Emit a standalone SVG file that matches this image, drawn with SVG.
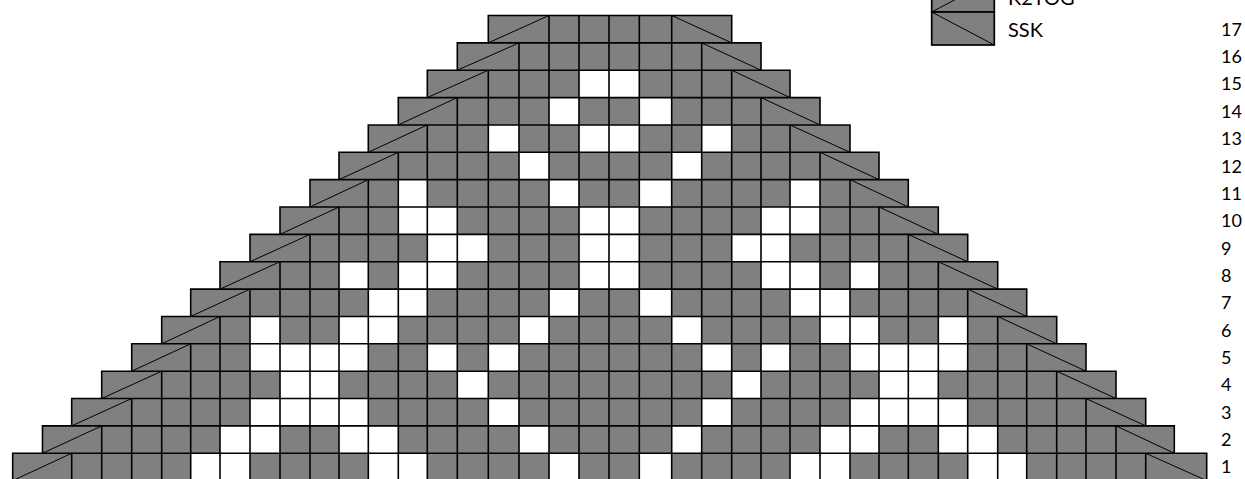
<svg xmlns="http://www.w3.org/2000/svg" width="1245" height="479" viewBox="0 0 1245 479">
<style>
.bg{fill:#808080;stroke:none}
.w{fill:#ffffff;stroke:none}
.grid{fill:none;stroke:#000;stroke-width:1.6;stroke-linecap:square}
.diag{fill:none;stroke:#000;stroke-width:1}
.lbox{fill:#808080;stroke:#000;stroke-width:1.7}
.t{font-family:Lato,"Liberation Sans",sans-serif;font-size:18px;fill:#000}
.lt{font-family:Lato,"Liberation Sans",sans-serif;font-size:20px;fill:#000}
</style>
<rect width="1245" height="479" fill="#fff"/>
<g id="chart">
<path id="shape" class="bg" d="M12.7 480.62V453.26H42.5V425.9H71.7V398.54H101.7V371.18H131.7V343.82H161.7V316.46H190.7V289.1H220V261.74H250V234.38H280V207.02H310V179.66H339V152.3H368.3V124.94H398.3V97.58H427.3V70.22H457.3V42.86H488.3V15.5H731.7V42.86H761V70.22H790V97.58H820V124.94H850V152.3H879V179.66H908.3V207.02H938.3V234.38H967.7V261.74H997.7V289.1H1026.7V316.46H1056.7V343.82H1086V371.18H1116V398.54H1145.7V425.9H1174.3V453.26H1206.7V480.62Z"/>
<g id="row-1" class="w">
<rect x="190.7" y="453.26" width="59.3" height="27.36"/><rect x="368.3" y="453.26" width="59" height="27.36"/><rect x="549" y="453.26" width="30" height="27.36"/><rect x="639.3" y="453.26" width="32.4" height="27.36"/><rect x="790" y="453.26" width="60" height="27.36"/><rect x="967.7" y="453.26" width="59" height="27.36"/>
</g>
<g id="row-2" class="w">
<rect x="220" y="425.9" width="60" height="27.36"/><rect x="339" y="425.9" width="59.3" height="27.36"/><rect x="519" y="425.9" width="30" height="27.36"/><rect x="671.7" y="425.9" width="30" height="27.36"/><rect x="820" y="425.9" width="59" height="27.36"/><rect x="938.3" y="425.9" width="59.4" height="27.36"/>
</g>
<g id="row-3" class="w">
<rect x="250" y="398.54" width="118.3" height="27.36"/><rect x="488.3" y="398.54" width="30.7" height="27.36"/><rect x="701.7" y="398.54" width="30" height="27.36"/><rect x="850" y="398.54" width="117.7" height="27.36"/>
</g>
<g id="row-4" class="w">
<rect x="280" y="371.18" width="59" height="27.36"/><rect x="457.3" y="371.18" width="31" height="27.36"/><rect x="731.7" y="371.18" width="29.3" height="27.36"/><rect x="879" y="371.18" width="59.3" height="27.36"/>
</g>
<g id="row-5" class="w">
<rect x="250" y="343.82" width="118.3" height="27.36"/><rect x="427.3" y="343.82" width="30" height="27.36"/><rect x="488.3" y="343.82" width="30.7" height="27.36"/><rect x="701.7" y="343.82" width="30" height="27.36"/><rect x="761" y="343.82" width="29" height="27.36"/><rect x="850" y="343.82" width="117.7" height="27.36"/>
</g>
<g id="row-6" class="w">
<rect x="250" y="316.46" width="30" height="27.36"/><rect x="339" y="316.46" width="59.3" height="27.36"/><rect x="519" y="316.46" width="30" height="27.36"/><rect x="671.7" y="316.46" width="30" height="27.36"/><rect x="820" y="316.46" width="59" height="27.36"/><rect x="938.3" y="316.46" width="29.4" height="27.36"/>
</g>
<g id="row-7" class="w">
<rect x="368.3" y="289.1" width="59" height="27.36"/><rect x="549" y="289.1" width="30" height="27.36"/><rect x="639.3" y="289.1" width="32.4" height="27.36"/><rect x="790" y="289.1" width="60" height="27.36"/>
</g>
<g id="row-8" class="w">
<rect x="339" y="261.74" width="29.3" height="27.36"/><rect x="398.3" y="261.74" width="59" height="27.36"/><rect x="579" y="261.74" width="60.3" height="27.36"/><rect x="761" y="261.74" width="59" height="27.36"/><rect x="850" y="261.74" width="29" height="27.36"/>
</g>
<g id="row-9" class="w">
<rect x="427.3" y="234.38" width="61" height="27.36"/><rect x="579" y="234.38" width="60.3" height="27.36"/><rect x="731.7" y="234.38" width="58.3" height="27.36"/>
</g>
<g id="row-10" class="w">
<rect x="398.3" y="207.02" width="59" height="27.36"/><rect x="579" y="207.02" width="60.3" height="27.36"/><rect x="761" y="207.02" width="59" height="27.36"/>
</g>
<g id="row-11" class="w">
<rect x="398.3" y="179.66" width="29" height="27.36"/><rect x="549" y="179.66" width="30" height="27.36"/><rect x="639.3" y="179.66" width="32.4" height="27.36"/><rect x="790" y="179.66" width="30" height="27.36"/>
</g>
<g id="row-12" class="w">
<rect x="519" y="152.3" width="30" height="27.36"/><rect x="671.7" y="152.3" width="30" height="27.36"/>
</g>
<g id="row-13" class="w">
<rect x="488.3" y="124.94" width="30.7" height="27.36"/><rect x="579" y="124.94" width="60.3" height="27.36"/><rect x="701.7" y="124.94" width="30" height="27.36"/>
</g>
<g id="row-14" class="w">
<rect x="549" y="97.58" width="30" height="27.36"/><rect x="639.3" y="97.58" width="32.4" height="27.36"/>
</g>
<g id="row-15" class="w">
<rect x="579" y="70.22" width="60.3" height="27.36"/>
</g>
<g id="row-16"/>
<g id="row-17"/>
<path id="grid" class="grid" d="M12.7 480.62V453.26H42.5V425.9H71.7V398.54H101.7V371.18H131.7V343.82H161.7V316.46H190.7V289.1H220V261.74H250V234.38H280V207.02H310V179.66H339V152.3H368.3V124.94H398.3V97.58H427.3V70.22H457.3V42.86H488.3V15.5H731.7V42.86H761V70.22H790V97.58H820V124.94H850V152.3H879V179.66H908.3V207.02H938.3V234.38H967.7V261.74H997.7V289.1H1026.7V316.46H1056.7V343.82H1086V371.18H1116V398.54H1145.7V425.9H1174.3V453.26H1206.7V480.62Z
M42.5 453.26H1174.3M71.7 425.9H1145.7M101.7 398.54H1116M131.7 371.18H1086M161.7 343.82H1056.7M190.7 316.46H1026.7M220 289.1H997.7M250 261.74H967.7M280 234.38H938.3M310 207.02H908.3M339 179.66H879M368.3 152.3H850M398.3 124.94H820M427.3 97.58H790M457.3 70.22H761M488.3 42.86H731.7
M71.7 453.26V480.62M101.7 425.9V480.62M131.7 398.54V480.62M161.7 371.18V480.62M190.7 343.82V480.62M220 316.46V480.62M250 289.1V480.62M280 261.74V480.62M310 234.38V480.62M339 207.02V480.62M368.3 179.66V480.62M398.3 152.3V480.62M427.3 124.94V480.62M457.3 97.58V480.62M488.3 70.22V480.62M519 42.86V480.62M549 15.5V480.62M579 15.5V480.62M609 15.5V480.62M639.3 15.5V480.62M671.7 15.5V480.62M701.7 42.86V480.62M731.7 70.22V480.62M761 97.58V480.62M790 124.94V480.62M820 152.3V480.62M850 179.66V480.62M879 207.02V480.62M908.3 234.38V480.62M938.3 261.74V480.62M967.7 289.1V480.62M997.7 316.46V480.62M1026.7 343.82V480.62M1056.7 371.18V480.62M1086 398.54V480.62M1116 425.9V480.62M1145.7 453.26V480.62"/>
<path id="k2tog-diagonals" class="diag" d="M12.7 480.62L71.7 453.26M42.5 453.26L101.7 425.9M71.7 425.9L131.7 398.54M101.7 398.54L161.7 371.18M131.7 371.18L190.7 343.82M161.7 343.82L220 316.46M190.7 316.46L250 289.1M220 289.1L280 261.74M250 261.74L310 234.38M280 234.38L339 207.02M310 207.02L368.3 179.66M339 179.66L398.3 152.3M368.3 152.3L427.3 124.94M398.3 124.94L457.3 97.58M427.3 97.58L488.3 70.22M457.3 70.22L519 42.86M488.3 42.86L549 15.5"/>
<path id="ssk-diagonals" class="diag" d="M1145.7 453.26L1206.7 480.62M1116 425.9L1174.3 453.26M1086 398.54L1145.7 425.9M1056.7 371.18L1116 398.54M1026.7 343.82L1086 371.18M997.7 316.46L1056.7 343.82M967.7 289.1L1026.7 316.46M938.3 261.74L997.7 289.1M908.3 234.38L967.7 261.74M879 207.02L938.3 234.38M850 179.66L908.3 207.02M820 152.3L879 179.66M790 124.94L850 152.3M761 97.58L820 124.94M731.7 70.22L790 97.58M701.7 42.86L761 70.22M671.7 15.5L731.7 42.86"/>
</g>
<g id="row-labels" class="t">
<text x="1221" y="35.7">17</text>
<text x="1221" y="63">16</text>
<text x="1221" y="90.4">15</text>
<text x="1221" y="117.8">14</text>
<text x="1221" y="145.1">13</text>
<text x="1221" y="172.5">12</text>
<text x="1221" y="199.8">11</text>
<text x="1221" y="227.2">10</text>
<text x="1221" y="254.6">9</text>
<text x="1221" y="281.9">8</text>
<text x="1221" y="309.3">7</text>
<text x="1221" y="336.6">6</text>
<text x="1221" y="364">5</text>
<text x="1221" y="391.4">4</text>
<text x="1221" y="418.7">3</text>
<text x="1221" y="446.1">2</text>
<text x="1221" y="473.4">1</text>
</g>
<g id="legend-k2tog">
<rect class="lbox" x="931.7" y="-21" width="62.6" height="33"/>
<path class="diag" d="M931.7 12L994.3 -21"/>
<text class="lt" x="1008" y="4.5">K2TOG</text>
</g>
<g id="legend-ssk">
<rect class="lbox" x="931.7" y="12" width="62.6" height="33"/>
<path class="diag" d="M931.7 12L994.3 45"/>
<text class="lt" x="1008" y="37">SSK</text>
</g>
</svg>
